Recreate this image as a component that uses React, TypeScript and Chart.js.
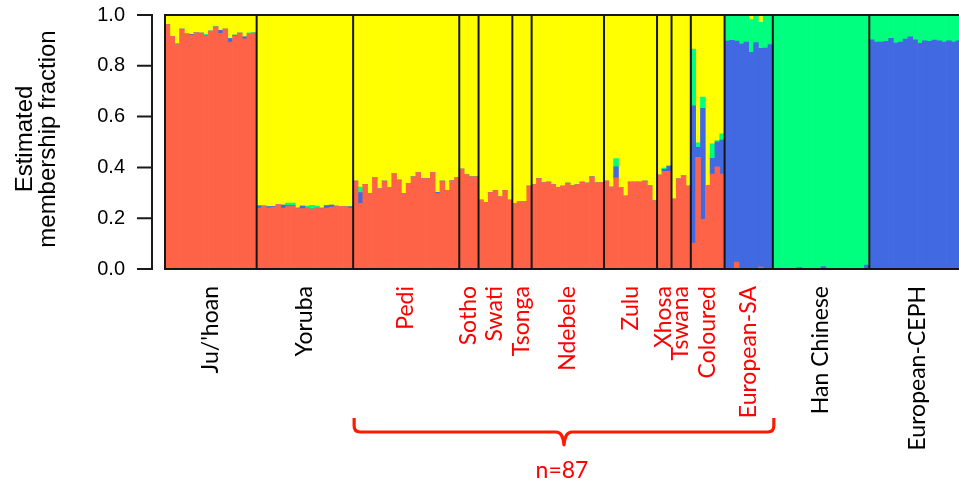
import React, { useEffect, useRef } from 'react';
import { Chart, registerables } from 'chart.js';

Chart.register(...registerables);

// ---- categories ----
const groups = ["Ju/'hoan", 'Yoruba', 'Pedi', 'Sotho', 'Swati', 'Tsonga', 'Ndebele', 'Zulu', 'Xhosa', 'Tswana', 'Coloured', 'European-SA', 'Han Chinese', 'European-CEPH'];
const groupSizes = [19, 20, 22, 4, 7, 4, 15, 11, 3, 4, 7, 10, 20, 20];
const highlightedGroups = ['Pedi', 'Sotho', 'Swati', 'Tsonga', 'Ndebele', 'Zulu', 'Xhosa', 'Tswana', 'Coloured', 'European-SA'];
const braceText = 'n=87';

// ---- tick labels ----
const yTicks = [0, 0.2, 0.4, 0.6, 0.8, 1.0];
const yTitle = ['Estimated', 'membership fraction'];

// ---- series values (one entry per individual, one line per group) ----
const clusterRed = [
  0.962, 0.916, 0.884, 0.945, 0.925, 0.921, 0.930, 0.929, 0.918, 0.937, 0.953, 0.928, 0.945, 0.893, 0.918, 0.929, 0.906, 0.925, 0.929,
  0.240, 0.246, 0.241, 0.244, 0.254, 0.240, 0.246, 0.246, 0.238, 0.238, 0.240, 0.236, 0.240, 0.238, 0.240, 0.244, 0.246, 0.246, 0.246, 0.240,
  0.346, 0.258, 0.333, 0.297, 0.359, 0.316, 0.346, 0.321, 0.376, 0.350, 0.297, 0.337, 0.363, 0.380, 0.356, 0.356, 0.380, 0.297, 0.346, 0.310, 0.347, 0.359,
  0.393, 0.372, 0.363, 0.363,
  0.271, 0.262, 0.301, 0.310, 0.284, 0.310, 0.271,
  0.258, 0.264, 0.264, 0.326,
  0.333, 0.356, 0.339, 0.342, 0.332, 0.322, 0.326, 0.338, 0.329, 0.332, 0.342, 0.338, 0.363, 0.339, 0.341,
  0.346, 0.323, 0.359, 0.320, 0.287, 0.342, 0.342, 0.342, 0.346, 0.327, 0.268,
  0.370, 0.385, 0.385,
  0.275, 0.355, 0.367, 0.326,
  0.102, 0.440, 0.196, 0.329, 0.374, 0.402, 0.374,
  0, 0, 0.027, 0, 0, 0, 0, 0.008, 0, 0,
  0, 0, 0, 0, 0, 0, 0, 0, 0, 0, 0, 0, 0, 0, 0, 0, 0, 0, 0, 0,
  0, 0, 0, 0, 0, 0, 0, 0, 0, 0, 0, 0, 0, 0, 0, 0, 0, 0, 0, 0,
];
const clusterBlue = [
  0, 0, 0, 0, 0, 0.003, 0, 0, 0, 0, 0, 0.012, 0, 0.014, 0.003, 0, 0.008, 0, 0,
  0.009, 0, 0.005, 0.003, 0, 0.012, 0.004, 0.004, 0, 0.010, 0, 0, 0, 0, 0.010, 0.008, 0.002, 0, 0, 0.006,
  0, 0.043, 0, 0, 0, 0, 0, 0, 0, 0, 0, 0, 0, 0, 0, 0, 0, 0.005, 0, 0, 0, 0,
  0, 0, 0, 0,
  0, 0, 0, 0, 0, 0, 0,
  0, 0, 0, 0,
  0, 0, 0, 0, 0, 0, 0, 0, 0, 0, 0, 0, 0, 0, 0,
  0, 0, 0.043, 0, 0, 0, 0, 0, 0, 0, 0,
  0, 0.007, 0.020,
  0, 0, 0, 0,
  0.540, 0.039, 0.437, 0, 0.062, 0.099, 0.134,
  0.897, 0.900, 0.870, 0.886, 0.893, 0.853, 0.891, 0.861, 0.870, 0.884,
  0, 0, 0, 0, 0, 0.006, 0, 0, 0, 0, 0.010, 0, 0, 0, 0, 0, 0, 0, 0, 0.015,
  0.902, 0.893, 0.893, 0.896, 0.908, 0.889, 0.893, 0.905, 0.914, 0.902, 0.888, 0.898, 0.896, 0.901, 0.898, 0.893, 0.898, 0.893, 0.898, 0.896,
];
const clusterGreen = [
  0, 0, 0.004, 0, 0.002, 0, 0, 0, 0.006, 0, 0, 0, 0, 0, 0, 0, 0, 0.005, 0.002,
  0, 0.005, 0, 0, 0, 0, 0.010, 0.010, 0.004, 0, 0.008, 0.015, 0.008, 0.004, 0, 0, 0, 0, 0, 0,
  0, 0.022, 0, 0, 0, 0, 0, 0, 0, 0, 0, 0, 0, 0, 0, 0, 0, 0, 0, 0, 0, 0,
  0, 0, 0, 0,
  0, 0, 0, 0, 0, 0, 0,
  0, 0, 0, 0,
  0, 0, 0, 0, 0, 0, 0, 0, 0, 0, 0, 0, 0, 0, 0,
  0, 0, 0.033, 0, 0, 0, 0, 0, 0, 0, 0,
  0, 0.005, 0,
  0, 0, 0, 0,
  0.224, 0.018, 0.044, 0, 0.057, 0.005, 0.024,
  0.103, 0.100, 0.103, 0.114, 0.107, 0.129, 0.109, 0.102, 0.130, 0.116,
  1, 1, 1, 1, 1, 0.994, 1, 1, 1, 1, 0.990, 1, 1, 1, 1, 1, 1, 1, 1, 0.985,
  0.098, 0.107, 0.107, 0.104, 0.092, 0.111, 0.107, 0.095, 0.086, 0.098, 0.112, 0.102, 0.104, 0.099, 0.102, 0.107, 0.102, 0.107, 0.102, 0.104,
];
const clusterYellow = [
  0.038, 0.084, 0.112, 0.055, 0.073, 0.076, 0.070, 0.071, 0.076, 0.063, 0.047, 0.060, 0.055, 0.093, 0.079, 0.071, 0.086, 0.070, 0.069,
  0.751, 0.749, 0.754, 0.753, 0.746, 0.748, 0.740, 0.740, 0.758, 0.752, 0.752, 0.749, 0.752, 0.758, 0.750, 0.748, 0.752, 0.754, 0.754, 0.754,
  0.654, 0.677, 0.667, 0.703, 0.641, 0.684, 0.654, 0.679, 0.624, 0.650, 0.703, 0.663, 0.637, 0.620, 0.644, 0.644, 0.620, 0.698, 0.654, 0.690, 0.653, 0.641,
  0.607, 0.628, 0.637, 0.637,
  0.729, 0.738, 0.699, 0.690, 0.716, 0.690, 0.729,
  0.742, 0.736, 0.736, 0.674,
  0.667, 0.644, 0.661, 0.658, 0.668, 0.678, 0.674, 0.662, 0.671, 0.668, 0.658, 0.662, 0.637, 0.661, 0.659,
  0.654, 0.677, 0.565, 0.680, 0.713, 0.658, 0.658, 0.658, 0.654, 0.673, 0.732,
  0.630, 0.603, 0.595,
  0.725, 0.645, 0.633, 0.674,
  0.134, 0.503, 0.323, 0.671, 0.507, 0.494, 0.468,
  0, 0, 0, 0, 0, 0.018, 0, 0.029, 0, 0,
  0, 0, 0, 0, 0, 0, 0, 0, 0, 0, 0, 0, 0, 0, 0, 0, 0, 0, 0, 0,
  0, 0, 0, 0, 0, 0, 0, 0, 0, 0, 0, 0, 0, 0, 0, 0, 0, 0, 0, 0,
];

// ---- styles ----
const COLORS = { red: '#FF6347', blue: '#4169E1', green: '#00FF7F', yellow: '#FFFF00' };
const FRAME = '#161616';
const LABEL_RED = '#FF0000';
const LABEL_FONT = 'Lato';
const AXIS_FONT = '"Liberation Sans", Arial, sans-serif';

const CANVAS_W = 980;
const CANVAS_H = 483;
const PLOT_LEFT = 165;
const PLOT_TOP = 15;
const PLOT_BOTTOM = 269;
const BAR_PX = 4.824;

export default function App() {
  const canvasRef = useRef<HTMLCanvasElement | null>(null);

  useEffect(() => {
    const canvas = canvasRef.current;
    if (!canvas) return;

    const labels: string[] = [];
    const bounds: number[] = [0];
    groups.forEach((g, gi) => {
      for (let k = 0; k < groupSizes[gi]; k++) labels.push(`${g} ${k + 1}`);
      bounds.push(bounds[bounds.length - 1] + groupSizes[gi]);
    });
    const total = bounds[bounds.length - 1];
    const plotRight = PLOT_LEFT + total * BAR_PX;

    const overlay = {
      id: 'overlay',
      afterDraw(chart: any) {
        const { ctx, chartArea: a, scales } = chart;
        const x = scales.x;
        const y = scales.y;
        const edge = (i: number) => x.getPixelForValue(i - 0.5);
        ctx.save();

        // frame and group dividers
        ctx.strokeStyle = FRAME;
        ctx.lineWidth = 2;
        ctx.beginPath();
        bounds.forEach((b) => {
          const px = edge(b);
          ctx.moveTo(px, a.top);
          ctx.lineTo(px, a.bottom);
        });
        ctx.moveTo(a.left - 1, a.top);
        ctx.lineTo(a.right + 1, a.top);
        ctx.moveTo(a.left - 1, a.bottom);
        ctx.lineTo(a.right + 1, a.bottom);
        ctx.stroke();

        // detached y axis line with tick marks
        const axisX = a.left - 13;
        ctx.strokeStyle = '#1a1a1a';
        ctx.lineWidth = 2;
        ctx.beginPath();
        ctx.moveTo(axisX, y.getPixelForValue(yTicks[0]));
        ctx.lineTo(axisX, y.getPixelForValue(yTicks[yTicks.length - 1]));
        yTicks.forEach((t) => {
          const py = y.getPixelForValue(t);
          ctx.moveTo(axisX - 15, py);
          ctx.lineTo(axisX + 1, py);
        });
        ctx.stroke();

        // y title (two lines, rotated)
        ctx.fillStyle = '#000';
        ctx.font = `24px ${AXIS_FONT}`;
        ctx.textAlign = 'center';
        ctx.textBaseline = 'alphabetic';
        const midY = (a.top + a.bottom) / 2 - 3;
        [32, 55].forEach((bx, i) => {
          ctx.save();
          ctx.translate(bx, midY);
          ctx.rotate(-Math.PI / 2);
          ctx.fillText(yTitle[i], 0, 0);
          ctx.restore();
        });

        // group labels
        ctx.font = `23px ${LABEL_FONT}`;
        ctx.textAlign = 'right';
        groups.forEach((g, gi) => {
          const cx = (edge(bounds[gi]) + edge(bounds[gi + 1])) / 2;
          ctx.save();
          ctx.fillStyle = highlightedGroups.includes(g) ? LABEL_RED : '#000';
          ctx.translate(cx + 7, a.bottom + 17);
          ctx.rotate(-Math.PI / 2);
          ctx.fillText(g, 0, 0);
          ctx.restore();
        });

        // curly brace under the highlighted groups
        const gFirst = groups.indexOf(highlightedGroups[0]);
        const gLast = groups.indexOf(highlightedGroups[highlightedGroups.length - 1]);
        const L = edge(bounds[gFirst]) + 1;
        const R = edge(bounds[gLast + 1]) + 1;
        const M = (L + R) / 2;
        const yTop = 418;
        const yMid = 432;
        const yTip = 445;
        ctx.strokeStyle = '#FF1A00';
        ctx.lineWidth = 3.2;
        ctx.lineJoin = 'round';
        ctx.beginPath();
        ctx.moveTo(L, yTop);
        ctx.lineTo(L, yMid - 6);
        ctx.quadraticCurveTo(L, yMid, L + 6, yMid);
        ctx.lineTo(M - 8, yMid);
        ctx.quadraticCurveTo(M - 1, yMid, M, yTip);
        ctx.quadraticCurveTo(M + 1, yMid, M + 8, yMid);
        ctx.lineTo(R - 6, yMid);
        ctx.quadraticCurveTo(R, yMid, R, yMid - 6);
        ctx.lineTo(R, yTop);
        ctx.stroke();

        ctx.fillStyle = LABEL_RED;
        ctx.font = `23px ${LABEL_FONT}`;
        ctx.textAlign = 'center';
        ctx.fillText(braceText, M - 2, 478);

        ctx.restore();
      },
    };

    const ds = (label: string, data: number[], color: string) => ({
      label,
      data,
      backgroundColor: color,
      borderWidth: 0,
      barPercentage: 1,
      categoryPercentage: 1,
      stack: 'q',
    });

    const chart = new Chart(canvas, {
      type: 'bar',
      data: {
        labels,
        datasets: [
          ds('Cluster 1', clusterRed, COLORS.red),
          ds('Cluster 2', clusterBlue, COLORS.blue),
          ds('Cluster 3', clusterGreen, COLORS.green),
          ds('Cluster 4', clusterYellow, COLORS.yellow),
        ],
      },
      options: {
        animation: false,
        responsive: true,
        maintainAspectRatio: false,
        devicePixelRatio: 1,
        layout: {
          padding: { left: 0, top: PLOT_TOP, bottom: CANVAS_H - PLOT_BOTTOM, right: CANVAS_W - plotRight },
        },
        plugins: { legend: { display: false }, tooltip: { enabled: false }, title: { display: false } },
        scales: {
          x: { type: 'category', display: false, stacked: true, offset: true, grid: { display: false } },
          y: {
            stacked: true,
            min: 0,
            max: 1,
            afterFit: (s: any) => {
              s.width = PLOT_LEFT;
              s.paddingTop = 0;
              s.paddingBottom = 0;
            },
            afterBuildTicks: (s: any) => { s.ticks = yTicks.map((v) => ({ value: v })); },
            ticks: {
              callback: (v: any) => Number(v).toFixed(1),
              color: '#000',
              padding: 40,
              font: { family: AXIS_FONT, size: 20 },
            },
            grid: { display: false, drawTicks: false },
            border: { display: false },
          },
        },
      },
      plugins: [overlay],
    });

    return () => chart.destroy();
  }, []);

  return (
    <div style={{ position: 'absolute', left: 0, top: 0, width: 959, height: 483, overflow: 'hidden', background: '#fff' }}>
      <div style={{ position: 'relative', width: CANVAS_W, height: CANVAS_H }}>
        <canvas ref={canvasRef} />
      </div>
    </div>
  );
}
